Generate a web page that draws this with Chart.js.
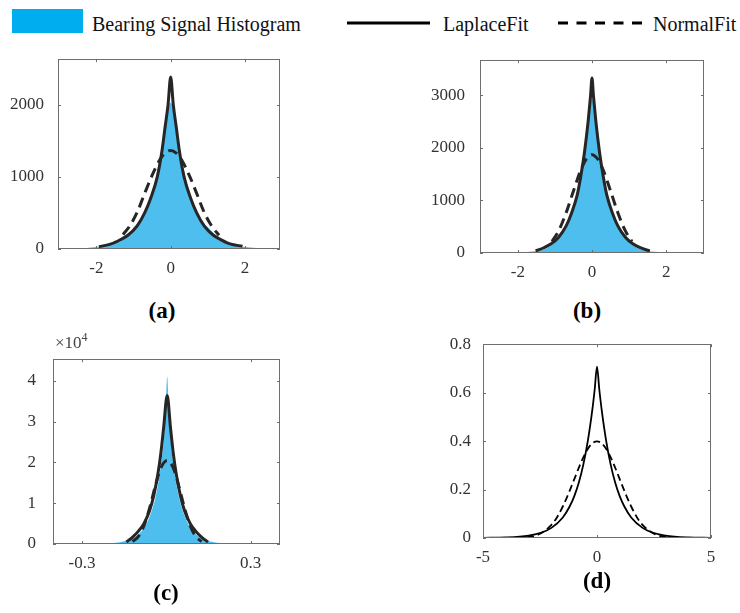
<!DOCTYPE html>
<html><head><meta charset="utf-8">
<script src="https://cdn.jsdelivr.net/npm/chart.js@4.4.1/dist/chart.umd.min.js"></script>
<style>
html,body{margin:0;padding:0;background:#fff;width:740px;height:613px;overflow:hidden;position:relative;font-family:"Liberation Serif","Times New Roman",serif;}
canvas{position:absolute;}
.lbl{position:absolute;font-weight:bold;font-size:23px;color:#000;transform:translate(-50%,-50%);white-space:nowrap;line-height:1;}
.leg{position:absolute;font-size:20px;color:#111;white-space:nowrap;line-height:1;}
.exp{position:absolute;font-size:17px;color:#444;white-space:nowrap;line-height:1;}
</style></head><body>
<div style="position:absolute;left:12px;top:9px;width:71px;height:24px;background:#00AEEF"></div>
<div class="leg" style="left:92px;top:14px">Bearing Signal Histogram</div>
<svg style="position:absolute;left:340px;top:15px" width="310" height="16"><line x1="7" y1="8" x2="90" y2="8" stroke="#000" stroke-width="3"/><line x1="218" y1="8" x2="302" y2="8" stroke="#000" stroke-width="3" stroke-dasharray="10,8.5"/></svg>
<div class="leg" style="left:443px;top:14px">LaplaceFit</div>
<div class="leg" style="left:653px;top:14px">NormalFit</div>
<canvas id="ca"></canvas><canvas id="cb"></canvas><canvas id="cc"></canvas><canvas id="cd"></canvas>
<div class="lbl" style="left:162px;top:310px">(a)</div>
<div class="lbl" style="left:587px;top:310px">(b)</div>
<div class="lbl" style="left:166px;top:592px">(c)</div>
<div class="lbl" style="left:597px;top:580px">(d)</div>
<div class="exp" style="left:55px;top:331px">×10<sup style="font-size:12px;vertical-align:7px">4</sup></div>
<script>
// ---------- Panel (a) ----------
const aHistX = [-3.0,-2.6,-2.3,-2.0,-1.8,-1.6,-1.4,-1.2,-1.0,-0.8,-0.6,-0.5,-0.4,-0.3,-0.2,-0.1,-0.04,0,0.04,0.1,0.2,0.3,0.4,0.5,0.6,0.8,1.0,1.2,1.4,1.6,1.8,2.0,2.3,2.6,2.94];
const aHistY = [3,6,12,26,45,75,120,185,290,420,640,790,980,1210,1480,1800,1990,2030,1990,1820,1500,1230,990,790,640,420,300,195,125,80,48,28,14,7,3];
const aLapX = [-1.93,-1.6,-1.35,-1.15,-0.9,-0.7,-0.54,-0.36,-0.24,-0.15,-0.07,0,0.07,0.15,0.24,0.36,0.54,0.7,0.9,1.15,1.35,1.6,1.93];
const aLapY = [32,70,130,190,320,500,700,1000,1340,1690,2000,2384,2000,1690,1340,1000,700,500,320,190,130,70,38];
const aNormX = [-1.28,-1.1,-0.9,-0.7,-0.5,-0.3,-0.15,0,0.15,0.3,0.5,0.7,0.9,1.1,1.3];
const aNormY = [200,320,510,770,1020,1230,1330,1366,1330,1230,1020,770,510,320,190];
const aXTicks = [-2,0,2];
const aYTicks = [0,1000,2000];

// ---------- Panel (b) ----------
const bHistX = [-3.0,-2.5,-2.0,-1.8,-1.6,-1.4,-1.2,-1.0,-0.8,-0.6,-0.5,-0.4,-0.3,-0.2,-0.1,-0.04,0,0.04,0.1,0.2,0.3,0.4,0.5,0.6,0.8,1.0,1.2,1.4,1.6,1.8,2.0,2.5,3.0];
const bHistY = [2,5,10,16,28,50,100,200,370,640,830,1080,1420,1860,2400,2800,2950,2800,2420,1880,1440,1090,840,650,370,205,105,52,30,18,11,5,2];
const bLapX = [-1.52,-1.3,-1.1,-0.9,-0.7,-0.55,-0.4,-0.3,-0.2,-0.1,-0.04,0,0.04,0.1,0.2,0.3,0.4,0.55,0.7,0.9,1.1,1.3,1.56];
const bLapY = [40,100,175,300,510,760,1100,1470,1930,2530,2980,3327,2980,2530,1930,1470,1100,760,510,300,175,100,38];
const bNormX = [-1.08,-0.9,-0.7,-0.5,-0.3,-0.15,0,0.15,0.3,0.5,0.7,0.9,1.08];
const bNormY = [220,420,760,1180,1580,1790,1870,1790,1580,1180,760,420,220];
const bXTicks = [-2,0,2];
const bYTicks = [0,1000,2000,3000];

// ---------- Panel (c) ----------
const cHistX = [-0.40,-0.3,-0.22,-0.18,-0.15,-0.13,-0.11,-0.09,-0.07,-0.05,-0.04,-0.03,-0.02,-0.01,-0.004,0.003,0.01,0.016,0.02,0.03,0.04,0.05,0.07,0.09,0.11,0.13,0.15,0.18,0.22,0.3,0.4];
const cHistY = [40,80,180,320,700,1100,1800,3000,5000,8600,11000,14500,19000,25000,31000,41000,31000,25000,22000,17000,13000,10000,6000,3500,2100,1200,750,320,170,80,40];
const cLapX = [-0.142,-0.12,-0.1,-0.08,-0.06,-0.045,-0.03,-0.02,-0.01,0.003,0.015,0.025,0.035,0.05,0.065,0.085,0.105,0.125,0.148];
const cLapY = [500,1700,3100,5000,8100,11800,17200,22000,28300,36400,28300,22000,17200,11800,8100,5000,3100,1700,500];
const cNormX = [-0.12,-0.1,-0.08,-0.06,-0.04,-0.02,0.003,0.025,0.045,0.065,0.085,0.105,0.125];
const cNormY = [600,1800,4400,8700,14000,18600,20500,18600,14000,8700,4400,1800,600];
const cXTicks = [-0.3,0.3];
const cYTicks = [0,10000,20000,30000,40000];

// ---------- Panel (d) ----------
const dLapX = [-5,-4,-3,-2.5,-2,-1.5,-1.2,-1,-0.8,-0.6,-0.4,-0.2,-0.1,0,0.1,0.2,0.4,0.6,0.8,1,1.2,1.5,2,2.5,3,4,5];
const dLapY = [0.0006,0.0025,0.0102,0.0206,0.0418,0.0848,0.130,0.172,0.228,0.303,0.402,0.533,0.614,0.707,0.614,0.533,0.402,0.303,0.228,0.172,0.130,0.0848,0.0418,0.0206,0.0102,0.0025,0.0006];
const dNormX = [-5,-4,-3,-2.5,-2,-1.75,-1.5,-1.25,-1,-0.75,-0.5,-0.25,0,0.25,0.5,0.75,1,1.25,1.5,1.75,2,2.5,3,4,5];
const dNormY = [0,0.0001,0.0044,0.0175,0.054,0.086,0.130,0.183,0.242,0.301,0.352,0.387,0.399,0.387,0.352,0.301,0.242,0.183,0.130,0.086,0.054,0.0175,0.0044,0.0001,0];
const dXTicks = [-5,0,5];
const dYTicks = [0,0.2,0.4,0.6,0.8];

const HIST_COLOR = '#4DBEEE';
const FIT_COLOR = '#262626';
const AXIS_COLOR = '#6e6e6e';
const TICK_COLOR = '#333333';
const FONT = {family:'"Liberation Serif", serif', size:17};
Chart.defaults.font.family = '"Liberation Serif", serif';

const pts = (xs, ys) => xs.map((x,i)=>({x, y: ys[i]}));

const boxPlugin = {
  id:'boxTicks',
  afterDraw(chart){
    const {ctx, chartArea:{left,right,top,bottom}, scales:{x,y}} = chart;
    ctx.save();
    ctx.strokeStyle = AXIS_COLOR; ctx.lineWidth = 1;
    ctx.strokeRect(Math.round(left)+0.5, Math.round(top)+0.5, Math.round(right-left)-1, Math.round(bottom-top)-1);
    const L = 3;
    ctx.beginPath();
    x.ticks.forEach(t=>{const p=Math.round(x.getPixelForValue(t.value))+0.5; ctx.moveTo(p,bottom); ctx.lineTo(p,bottom-L); ctx.moveTo(p,top); ctx.lineTo(p,top+L);});
    y.ticks.forEach(t=>{const p=Math.round(y.getPixelForValue(t.value))+0.5; ctx.moveTo(left,p); ctx.lineTo(left+L,p); ctx.moveTo(right,p); ctx.lineTo(right-L,p);});
    ctx.stroke(); ctx.restore();
  }
};

function panel(id, box, yW, ypad, xr, yr, xt, yt, datasets, yFmt){
  const padT = 12, padR = 12, xH = 40;
  const cv = document.getElementById(id);
  const w = box.r - box.l + yW + padR, h = box.b - box.t + padT + xH;
  cv.width = w; cv.height = h;
  cv.style.left = (box.l - yW) + 'px'; cv.style.top = (box.t - padT) + 'px';
  cv.style.width = w + 'px'; cv.style.height = h + 'px';
  new Chart(cv, {
    type:'line',
    data:{datasets},
    options:{
      responsive:false, animation:false, devicePixelRatio:1,
      layout:{padding:{top:padT,right:padR,left:0,bottom:0}},
      plugins:{legend:{display:false}, tooltip:{enabled:false}},
      elements:{point:{radius:0}},
      scales:{
        x:{type:'linear', min:xr[0], max:xr[1], grid:{display:false}, border:{display:false},
           afterBuildTicks:s=>{s.ticks = xt.map(v=>({value:v}));},
           afterFit:s=>{s.height = xH;},
           ticks:{padding:1, color:TICK_COLOR, font:FONT, maxRotation:0, autoSkip:false, callback:v=>String(v)}},
        y:{type:'linear', min:yr[0], max:yr[1], grid:{display:false}, border:{display:false},
           afterBuildTicks:s=>{s.ticks = yt.map(v=>({value:v}));},
           afterFit:s=>{s.width = yW;},
           ticks:{padding:ypad, color:TICK_COLOR, font:FONT, autoSkip:false, callback:yFmt || (v=>String(v))}}
      }
    },
    plugins:[boxPlugin]
  });
}

function histDs(xs, ys){
  return {data:pts(xs,ys), borderWidth:0, borderColor:HIST_COLOR, backgroundColor:HIST_COLOR, fill:'origin', cubicInterpolationMode:'monotone', order:3};
}
function lapDs(xs, ys, w, c){
  return {data:pts(xs,ys), borderWidth:w, borderColor:c, fill:false, cubicInterpolationMode:'monotone', order:2};
}
function normDs(xs, ys, w, c, dash){
  return {data:pts(xs,ys), borderWidth:w, borderColor:c, borderDash:dash, fill:false, cubicInterpolationMode:'monotone', order:1};
}

panel('ca', {l:58,r:280,t:55,b:249}, 58, 6, [-3.03,2.94], [0,2630], aXTicks, aYTicks,
  [histDs(aHistX,aHistY), lapDs(aLapX,aLapY,3,FIT_COLOR), normDs(aNormX,aNormY,3,FIT_COLOR,[10,6])]);
panel('cb', {l:480,r:704,t:55,b:253}, 60, 7, [-3.02,3.02], [0,3665], bXTicks, bYTicks,
  [histDs(bHistX,bHistY), lapDs(bLapX,bLapY,3,FIT_COLOR), normDs(bNormX,bNormY,3,FIT_COLOR,[10,6])]);
panel('cc', {l:53,r:280,t:352,b:544}, 53, 9, [-0.403,0.404], [0,45300], cXTicks, cYTicks,
  [histDs(cHistX,cHistY), lapDs(cLapX,cLapY,3,FIT_COLOR), normDs(cNormX,cNormY,3,FIT_COLOR,[10,6])],
  v=>String(v/10000));
panel('cd', {l:483,r:711,t:342,b:538}, 60, 4, [-5,5], [0,0.8], dXTicks, dYTicks,
  [lapDs(dLapX,dLapY,1.8,'#000'), normDs(dNormX,dNormY,1.8,'#000',[7,4])]);
</script>
</body></html>
